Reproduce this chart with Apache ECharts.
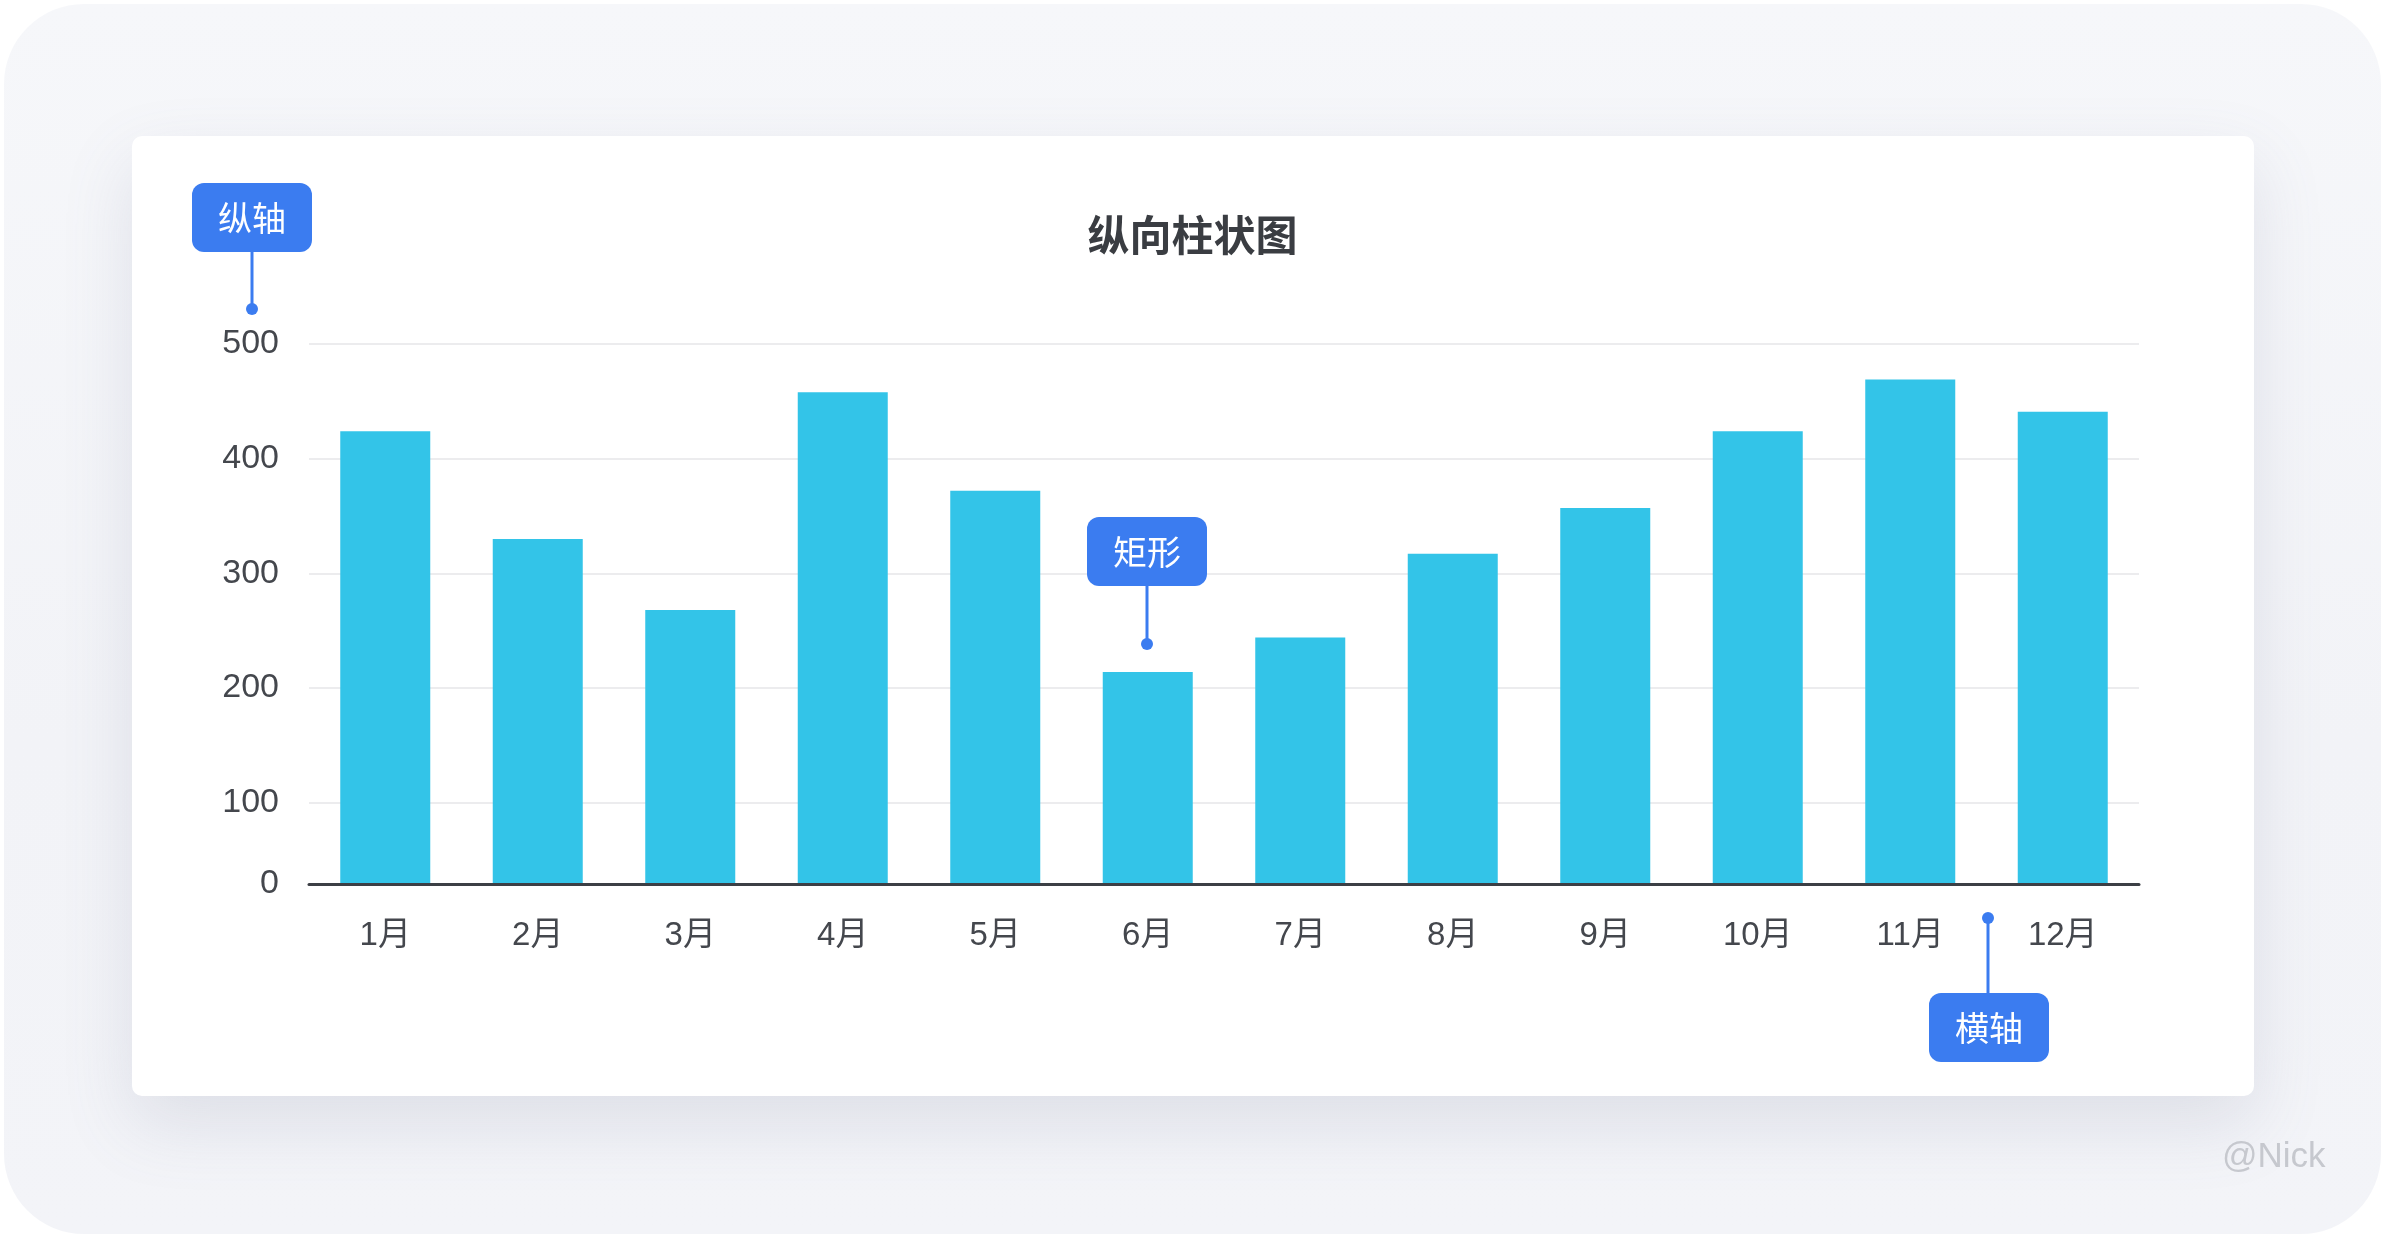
<!DOCTYPE html>
<html>
<head>
<meta charset="utf-8">
<script src="https://cdn.jsdelivr.net/npm/echarts@6/dist/echarts.min.js"></script>
<style>
  html, body { margin: 0; padding: 0; width: 2385px; height: 1236px; background: #ffffff; overflow: hidden; }
  #frame { position: absolute; left: 4px; top: 4px; width: 2377px; height: 1230px; border-radius: 80px;
           background: linear-gradient(180deg, #f6f7fa 0%, #f2f3f7 60%, #f3f4f8 100%); }
  #card { position: absolute; left: 132px; top: 136px; width: 2122px; height: 960px; border-radius: 10px;
          background: #ffffff; box-shadow: 0 28px 70px rgba(110, 118, 150, 0.16); }
  #chart { position: absolute; left: 0; top: 0; width: 2385px; height: 1236px; }
</style>
</head>
<body>
<div id="frame"></div>
<div id="card"></div>
<div id="chart"></div>
<script>
// ---- data ----
const months = ['1月', '2月', '3月', '4月', '5月', '6月', '7月', '8月', '9月', '10月', '11月', '12月'];
const values = [424, 330, 268, 458, 372, 214, 244, 317, 357, 424, 469, 441];
const yMin = 29;      // baseline of the drawn axis (labelled "0" in the design)
const yMax = 500;
const titleText = '纵向柱状图';
const calloutTexts = ['纵轴', '矩形', '横轴'];
const signature = '@Nick';

const FONT = '"Liberation Sans", "Noto Sans CJK SC", sans-serif';
const CJK = '"Noto Sans CJK SC", "Liberation Sans", sans-serif';
const BLUE = '#3b7cf0';

function callout(label, boxX, boxY, lineX, y1, y2, dotY) {
  return {
    type: 'group', z: 100,
    children: [
      { type: 'line', z: 100, shape: { x1: lineX, y1: y1, x2: lineX, y2: y2 },
        style: { stroke: BLUE, lineWidth: 3 } },
      { type: 'circle', z: 100, shape: { cx: lineX, cy: dotY, r: 6 }, style: { fill: BLUE } },
      { type: 'rect', z: 100, shape: { x: boxX, y: boxY, width: 120, height: 69, r: 12 },
        style: { fill: BLUE } },
      { type: 'text', z: 101, x: boxX + 60, y: boxY + 35,
        style: { text: label, fill: '#ffffff', font: '34px ' + CJK, align: 'center', verticalAlign: 'middle' } }
    ]
  };
}

const chart = echarts.init(document.getElementById('chart'), null, { renderer: 'canvas' });
chart.setOption({
  backgroundColor: 'transparent',
  animation: false,
  title: {
    text: titleText, left: 'center', top: 209,
    textStyle: { fontSize: 42, fontWeight: 'bold', color: '#3a3d42', fontFamily: CJK }
  },
  grid: { left: 309, top: 344, width: 1830, height: 540 },
  xAxis: {
    type: 'category', data: months, z: 10,
    axisLine: { lineStyle: { color: '#3c3f45', width: 3 } },
    axisTick: { alignWithLabel: true, length: 11, lineStyle: { color: '#3c3f45', width: 3 } },
    axisLabel: { fontSize: 33, color: '#44474d', margin: 35, fontFamily: FONT }
  },
  yAxis: {
    type: 'value', min: yMin, max: yMax, splitNumber: 5,
    axisLine: { show: false }, axisTick: { show: false },
    axisLabel: {
      fontSize: 34, color: '#44474d', margin: 30, fontFamily: FONT,
      formatter: function (v) { return v === yMin ? '0' : String(v); }
    },
    splitLine: { lineStyle: { color: '#ececee', width: 2 } }
  },
  series: [{
    type: 'bar', data: values, barWidth: 90, clip: true,
    itemStyle: { color: '#33c4e8' }
  }],
  graphic: [
    callout(calloutTexts[0], 192, 183, 252, 251, 309, 309),
    callout(calloutTexts[1], 1087, 517, 1147, 586, 644, 644),
    callout(calloutTexts[2], 1929, 993, 1988, 918, 993, 918),
    { type: 'text', z: 100, x: 2222, y: 1140,
      style: { text: signature, fill: '#c6c8ce', font: '35px ' + FONT } }
  ]
});
</script>
</body>
</html>
